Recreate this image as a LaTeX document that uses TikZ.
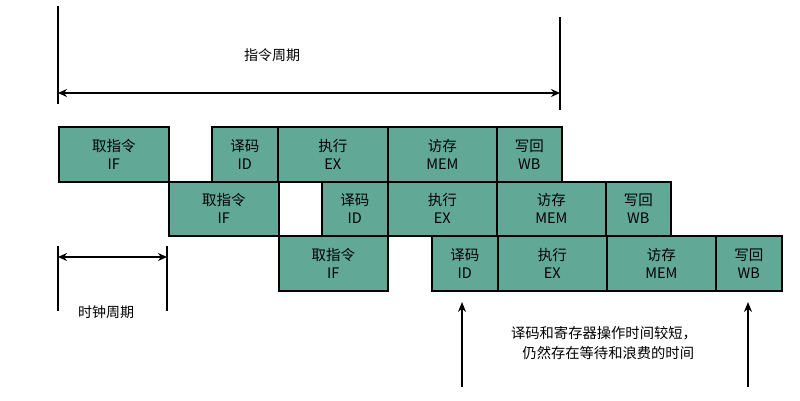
\documentclass[tikz,border=0pt]{standalone}
\usepackage{fontspec}
\setmainfont{Noto Sans CJK SC}
\usetikzlibrary{arrows.meta}
\definecolor{stagefill}{RGB}{98,168,151}
\tikzset{
  stagebox/.style={draw=black, line width=1.6pt, fill=stagefill, inner sep=0pt,
    anchor=north west, align=center, font=\fontsize{14.5}{18}\selectfont},
  guide/.style={line width=1.2pt},
  dimarrow/.style={line width=1.5pt, {Stealth[length=9pt,width=8pt]}-{Stealth[length=9pt,width=8pt]}},
  uparrow/.style={line width=1.5pt, -{Stealth[length=10pt,width=8pt]}},
  lbl/.style={font=\fontsize{14}{18}\selectfont, align=center}
}
\newcommand{\stg}[7]{% name, x1, x2, y1, y2, line1, line2
  \node[stagebox, minimum width=#3pt-#2pt, minimum height=#5pt-#4pt] (#1) at (#2,#4) {#6\\#7};}
\begin{document}
\begin{tikzpicture}[x=1pt,y=-1pt]
\useasboundingbox (0,0) rectangle (800,400);
% row 1
\stg{aIF}{58}{168}{126}{181}{取指令}{IF}
\stg{aID}{211}{277}{126}{181}{译码}{ID}
\stg{aEX}{277}{387}{126}{181}{执行}{EX}
\stg{aMEM}{387}{496}{126}{181}{访存}{MEM}
\stg{aWB}{496}{561}{126}{181}{写回}{WB}
% row 2
\stg{bIF}{168}{278}{181}{235}{取指令}{IF}
\stg{bID}{321}{387}{181}{235}{译码}{ID}
\stg{bEX}{387}{496}{181}{235}{执行}{EX}
\stg{bMEM}{496}{605}{181}{235}{访存}{MEM}
\stg{bWB}{605}{670}{181}{235}{写回}{WB}
% row 3
\stg{cIF}{278}{387}{235}{290}{取指令}{IF}
\stg{cID}{431}{497}{235}{290}{译码}{ID}
\stg{cEX}{497}{606}{235}{290}{执行}{EX}
\stg{cMEM}{606}{715}{235}{290}{访存}{MEM}
\stg{cWB}{715}{781}{235}{290}{写回}{WB}
% instruction cycle
\coordinate (t1a) at (58,6);
\coordinate (t1b) at (58,104);
\coordinate (t2a) at (560,17);
\coordinate (t2b) at (560,110);
\draw[guide] (t1a) -- (t1b);
\draw[guide] (t2a) -- (t2b);
\coordinate (ia) at (58,93);
\coordinate (ib) at (560,93);
\draw[dimarrow] (ia) -- (ib);
\node[lbl] (icyc) at (272,55) {指令周期};
% clock cycle
\coordinate (c1a) at (58,246);
\coordinate (c1b) at (58,311);
\coordinate (c2a) at (167,246);
\coordinate (c2b) at (167,311);
\draw[guide] (c1a) -- (c1b);
\draw[guide] (c2a) -- (c2b);
\coordinate (ca) at (58,257);
\coordinate (cb) at (167,257);
\draw[dimarrow] (ca) -- (cb);
\node[lbl] (ccyc) at (106,312) {时钟周期};
% upward arrows
\coordinate (u1) at (462,387);
\coordinate (u1t) at (462,302);
\coordinate (u2) at (748,387);
\coordinate (u2t) at (748,302);
\draw[uparrow] (u1) -- (u1t);
\draw[uparrow] (u2) -- (u2t);
\node[lbl, font=\fontsize{14.3}{20}\selectfont] (note) at (604,343) {译码和寄存器操作时间较短，\\\hspace*{0.6em}仍然存在等待和浪费的时间};
\end{tikzpicture}
\end{document}
